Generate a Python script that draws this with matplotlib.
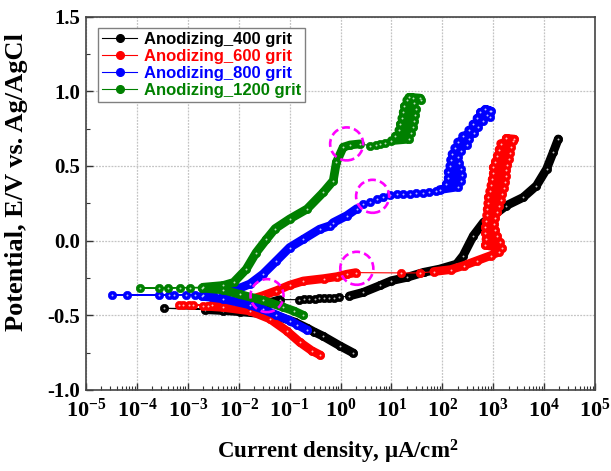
import matplotlib
matplotlib.use("Agg")
import matplotlib.pyplot as plt
from matplotlib.lines import Line2D
from matplotlib.patches import Ellipse
from matplotlib.ticker import FixedLocator, FixedFormatter, LogLocator, NullFormatter, MultipleLocator

plt.rcParams["font.family"] = "Liberation Serif"
plt.rcParams["font.weight"] = "bold"
plt.rcParams["axes.labelweight"] = "bold"
plt.rcParams["mathtext.fontset"] = "custom"
plt.rcParams["mathtext.rm"] = "Liberation Serif:bold"
plt.rcParams["mathtext.bf"] = "Liberation Serif:bold"
plt.rcParams["mathtext.it"] = "Liberation Serif:bold"

# current density (uA/cm2) and potential (V vs Ag/AgCl)
cur_400 = [1.78, 0.98, 0.457, 0.30, 0.219, 0.126, 0.063, 0.0316, 0.0107, 0.005, 0.0022,
           3.4e-4,
           2.4e-3, 5e-3, 0.012, 0.02, 0.04, 0.065,
           0.155, 0.195, 0.245, 0.31, 0.38, 0.48, 0.60, 0.76, 0.94,
           1.5, 2.8, 6.0, 10, 20, 43, 89, 190, 257, 407, 646, 1000, 1820, 3890, 7080,
           11200, 15100, 19000]
pot_400 = [-0.752, -0.705, -0.64, -0.61, -0.585, -0.545, -0.51, -0.49, -0.476, -0.468, -0.462,
           -0.453,
           -0.455, -0.45, -0.44, -0.435, -0.415, -0.395,
           -0.395, -0.393, -0.391, -0.389, -0.387, -0.385, -0.383, -0.381, -0.38,
           -0.37, -0.346, -0.30, -0.268, -0.246, -0.212, -0.19, -0.157, -0.10, 0.033, 0.123,
           0.168, 0.235, 0.29, 0.368, 0.48, 0.592, 0.681]
band_400 = [(0, 11), (12, 18), (27, 45)]

cur_600 = [0.40, 0.27, 0.158, 0.087, 0.041, 0.0166, 0.005, 0.0025,
           2.0e-3, 1.29e-3, 1.07e-3, 8.1e-4, 6.8e-4,
           3.0e-3, 0.008, 0.015, 0.03, 0.055, 0.10, 0.186, 0.47, 0.85, 1.32, 2.0,
           15.5, 37,
           68, 145, 263, 479, 891, 1300,
           1480, 700, 1350, 720, 1200, 700, 1100, 700, 1050, 720, 1100, 740, 1200, 760,
           1300, 780, 1400, 800, 1500, 850, 1600, 900, 1700, 950, 1750, 1000, 1800, 1000,
           1900, 1100, 2000, 1200, 2100, 1300, 2200, 1400, 2500, 1800, 2600]
pot_600 = [-0.766, -0.736, -0.68, -0.603, -0.524, -0.47, -0.447, -0.44,
           -0.435, -0.43, -0.43, -0.428, -0.428,
           -0.43, -0.425, -0.40, -0.368, -0.335, -0.298, -0.27, -0.254, -0.241, -0.225, -0.214,
           -0.216, -0.216,
           -0.207, -0.194, -0.167, -0.134, -0.10, -0.075,
           -0.05, -0.03, -0.01, 0.01, 0.03, 0.05, 0.07, 0.09, 0.11, 0.13, 0.15, 0.17, 0.19, 0.21,
           0.23, 0.25, 0.27, 0.29, 0.31, 0.33, 0.35, 0.37, 0.39, 0.41, 0.43, 0.45, 0.47, 0.49,
           0.51, 0.53, 0.55, 0.57, 0.59, 0.61, 0.63, 0.65, 0.67, 0.685, 0.68]
band_600 = [(0, 8), (13, 24), (26, 71)]

cur_800 = [0.22, 0.14, 0.10, 0.055, 0.03, 0.0166, 0.005, 0.0019,
           1.4e-3, 9.1e-4, 5.4e-4, 4.3e-4, 2.75e-4, 6.3e-5, 3.2e-5,
           2.0e-3, 0.004, 0.0079, 0.0166, 0.030, 0.055, 0.10, 0.186, 0.39, 0.62, 0.72, 1.32, 2.1,
           2.8, 3.8, 5.1, 6.9, 9.3, 12.6, 17, 23, 31, 42, 56, 76,
           89, 200, 120, 230, 130, 240, 130, 230, 140, 210, 145, 200, 155, 230, 175, 300, 200,
           330, 250, 420, 330, 500, 400, 620, 480, 750, 560, 880, 700, 900, 850]
pot_800 = [-0.598, -0.562, -0.535, -0.497, -0.46, -0.43, -0.39, -0.372,
           -0.364, -0.364, -0.364, -0.364, -0.364, -0.364, -0.364,
           -0.362, -0.35, -0.335, -0.29, -0.224, -0.135, -0.046, 0.01, 0.077, 0.10, 0.121, 0.167, 0.215,
           0.246, 0.262, 0.279, 0.292, 0.306, 0.31, 0.313, 0.315, 0.317, 0.32, 0.325, 0.333,
           0.342, 0.36, 0.38, 0.40, 0.42, 0.44, 0.46, 0.48, 0.50, 0.52, 0.54, 0.56, 0.58, 0.60,
           0.62, 0.64, 0.66, 0.68, 0.70, 0.72, 0.74, 0.76, 0.78, 0.80, 0.82, 0.84, 0.86, 0.87,
           0.88, 0.865, 0.83]
band_800 = [(0, 8), (15, 28), (40, 71)]

cur_1200 = [0.186, 0.12, 0.074, 0.030, 0.0105, 0.005, 0.0019,
            1.1e-3, 6.9e-4, 4.0e-4, 2.7e-4, 1.17e-4,
            2.0e-3, 0.005, 0.0079, 0.014, 0.022, 0.035, 0.052, 0.10, 0.22, 0.46, 0.72, 0.83,
            1.13, 1.55, 2.4,
            3.8, 4.9, 6.0, 7.6,
            10, 22, 12, 24, 14, 27, 15, 28, 16, 29, 17, 30, 18, 28, 20, 27, 22, 36, 38]
pot_1200 = [-0.50, -0.47, -0.445, -0.40, -0.36, -0.33, -0.317,
            -0.317, -0.317, -0.32, -0.32, -0.317,
            -0.312, -0.30, -0.28, -0.192, -0.08, 0.009, 0.081, 0.145, 0.212, 0.324, 0.402, 0.525,
            0.626, 0.641, 0.648,
            0.637, 0.643, 0.648, 0.655,
            0.67, 0.68, 0.70, 0.72, 0.74, 0.76, 0.78, 0.80, 0.82, 0.84, 0.86, 0.88, 0.90, 0.92,
            0.94, 0.955, 0.96, 0.955, 0.94]
band_1200 = [(0, 7), (12, 27), (31, 50)]

labels = ["Anodizing_400 grit", "Anodizing_600 grit", "Anodizing_800 grit", "Anodizing_1200 grit"]
colors = ["#000000", "#ff0000", "#0000ff", "#008000"]

# dashed circles marking the transitions
circle_cur = [1.32, 4.27, 2.09, 0.036]
circle_pot = [0.648, 0.297, -0.185, -0.368]

fig = plt.figure(figsize=(6.11, 4.71), dpi=100)
ax = fig.add_axes([0.1408, 0.172, 0.833, 0.7926])
ax.set_xscale("log")
ax.set_xlim(1e-5, 1e5)
ax.set_ylim(-1.0, 1.5)

series = [(cur_400, pot_400, band_400), (cur_600, pot_600, band_600),
          (cur_800, pot_800, band_800), (cur_1200, pot_1200, band_1200)]
for (cur, pot, bands), col in zip(series, colors):
    ax.plot(cur, pot, "-", color=col, lw=0.8, zorder=3)
    for a, b in bands:
        ax.plot(cur[a:b], pot[a:b], "-", color=col, lw=6.3,
                solid_capstyle="round", solid_joinstyle="round", zorder=3)
    ax.plot(cur, pot, "o", color=col, ms=6, mec=col, mew=0.5, zorder=3)
    ax.plot(cur, pot, "o", color="white", ms=1.4, mew=0, alpha=0.75, zorder=3)

# circles drawn in axes fraction so they stay round
rx = 16.5 / (0.833 * 611)
ry = 16.5 / (0.7926 * 471)
for c, p in zip(circle_cur, circle_pot):
    xa, ya = ax.transAxes.inverted().transform(ax.transData.transform((c, p)))
    ax.add_patch(Ellipse((xa, ya), 2 * rx, 2 * ry, transform=ax.transAxes, fill=False,
                         edgecolor="#ff00ff", lw=1.9, linestyle=(0, (3, 1.6)), zorder=5))

ax.grid(True, which="major", color="#c4c4c4", linestyle=(0, (1.5, 1)), lw=0.9, zorder=0)
ax.set_axisbelow(True)

decades = list(range(-5, 6))
ax.xaxis.set_major_locator(FixedLocator([10.0 ** k for k in decades]))
ax.xaxis.set_major_formatter(FixedFormatter([r"$\mathbf{10^{%d}}$" % k for k in decades]))
ax.xaxis.set_minor_locator(LogLocator(base=10, subs=range(2, 10), numticks=20))
ax.xaxis.set_minor_formatter(NullFormatter())
ax.yaxis.set_major_locator(MultipleLocator(0.5))
ax.yaxis.set_minor_locator(MultipleLocator(0.25))
ax.yaxis.set_major_formatter(plt.FuncFormatter(lambda v, _: "%.1f" % v))

ax.tick_params(which="both", direction="in", top=False, right=False, color="#333333")
ax.tick_params(which="major", length=5, width=1.0)
ax.tick_params(which="minor", length=3, width=0.8)
ax.tick_params(axis="x", labelsize=16, pad=6)
ax.tick_params(axis="y", labelsize=15, pad=4)

for s in ax.spines.values():
    s.set_color("#444444")
    s.set_linewidth(1.2)

ax.set_xlabel("Current density, μA/cm$^\\mathbf{2}$", fontsize=16.5, fontweight="bold")
ax.set_ylabel("Potential, E/V vs. Ag/AgCl", fontsize=19, fontweight="bold")
ax.xaxis.set_label_coords(0.494, -0.128)
ax.yaxis.set_label_coords(-0.114, 0.557)

handles = [Line2D([], [], color=c, lw=0.8, marker="o", ms=5.5, mec=c) for c in colors]
leg = ax.legend(handles, labels, loc="upper left", bbox_to_anchor=(0.0236, 0.970),
                borderaxespad=0, fancybox=False, framealpha=1, edgecolor="#808080",
                prop={"family": "Liberation Sans", "weight": "bold", "size": 12},
                handlelength=2.1, handletextpad=0.4, labelspacing=0.12, borderpad=0.25)
leg.get_frame().set_linewidth(1.0)
leg.set_zorder(6)
for t, c in zip(leg.get_texts(), colors):
    t.set_color(c)

fig.savefig("out.png", dpi=100, facecolor="white")
